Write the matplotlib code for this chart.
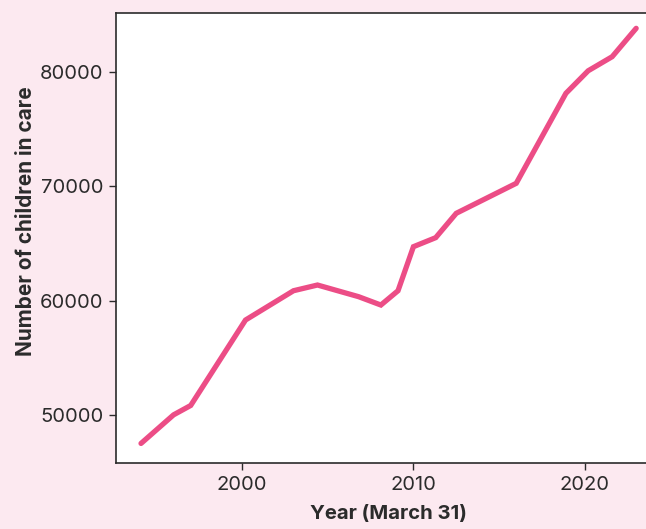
import matplotlib
matplotlib.use("Agg")
import matplotlib.pyplot as plt

# Children in care at 31 March
years = [1994.1, 1996.0, 1997.0, 2000.2, 2003.0, 2004.4, 2006.8, 2008.1,
         2009.1, 2010.0, 2011.3, 2012.5, 2016.0, 2018.9, 2020.2, 2021.6, 2023.0]
children = [47530, 50030, 50850, 58320, 60880, 61380, 60360, 59630,
            60880, 64730, 65520, 67650, 70270, 78140, 80110, 81340, 83820]

x_ticks = [2000, 2010, 2020]
y_ticks = [50000, 60000, 70000, 80000]

BG = "#fce9f0"
LINE = "#ec4d86"
TXT = "#2b2b2b"

plt.rcParams["font.family"] = ["Inter", "DejaVu Sans"]

fig = plt.figure(figsize=(6.46, 5.29), dpi=100, facecolor=BG)
# plot panel runs off the right edge of the image, as in the reference
ax = fig.add_axes([116 / 646, 66 / 529, 545 / 646, 450 / 529])
ax.set_facecolor("white")

ax.plot(years, children, color=LINE, lw=3.8, solid_capstyle="round",
        solid_joinstyle="miter")

ax.set_xlim(1992.64, 2024.45)
ax.set_ylim(45820, 85160)
ax.set_xticks(x_ticks)
ax.set_yticks(y_ticks)
ax.tick_params(length=5, width=1, color=TXT, labelcolor=TXT, labelsize=14.5, pad=4)

for s in ax.spines.values():
    s.set_color(TXT)
    s.set_linewidth(1.2)

ax.set_xlabel("Year (March 31)", fontsize=14.6, fontweight="bold", color=TXT,
              labelpad=8)
ax.set_ylabel("Number of children in care", fontsize=15, fontweight="bold",
              color=TXT)
# label sits a little above the panel centre in the reference
ax.yaxis.set_label_coords(-0.147, 0.538)

fig.savefig("out.png", dpi=100, facecolor=BG)
